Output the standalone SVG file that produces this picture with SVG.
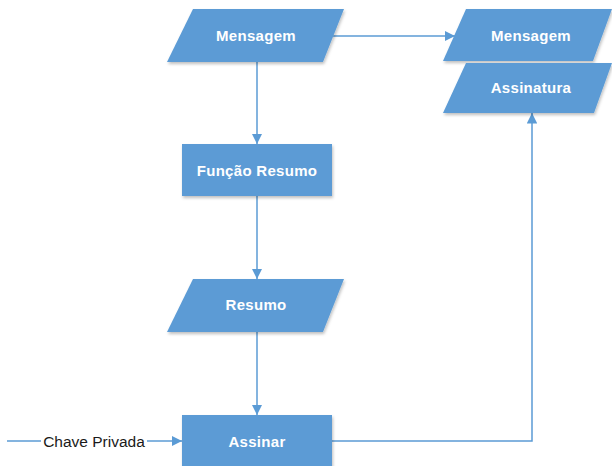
<svg xmlns="http://www.w3.org/2000/svg" width="612" height="466" viewBox="0 0 612 466">
  <style>
    .shape { fill: #5B9BD5; filter: url(#shadow); }
    .label { fill: #FFFFFF; font-family: "Liberation Sans", Arial, sans-serif; font-weight: bold; font-size: 15px; letter-spacing: 0.3px; text-anchor: middle; }
    .edge { fill: none; stroke: #5B9BD5; stroke-width: 1.5; }
    .edge-label { fill: #1A1A1A; font-family: "Liberation Sans", Arial, sans-serif; font-size: 15.5px; text-anchor: middle; }
  </style>
  <defs>
    <filter id="shadow" x="-10%" y="-20%" width="130%" height="160%">
      <feDropShadow dx="1" dy="2" stdDeviation="1.5" flood-color="#000000" flood-opacity="0.25"/>
    </filter>
    <marker id="arrow" viewBox="0 0 10 10" refX="10" refY="5" markerWidth="7" markerHeight="7" markerUnits="strokeWidth" orient="auto">
      <path d="M0,0 L10,5 L0,10 Z" fill="#5B9BD5"/>
    </marker>
  </defs>

  <rect width="612" height="466" fill="#FFFFFF"/>

  <!-- connectors -->
  <g id="connectors">
    <line class="edge" x1="257" y1="62" x2="257" y2="144" marker-end="url(#arrow)"/>
    <line class="edge" x1="333" y1="36" x2="455" y2="36" marker-end="url(#arrow)"/>
    <line class="edge" x1="257" y1="196" x2="257" y2="279" marker-end="url(#arrow)"/>
    <line class="edge" x1="257" y1="332" x2="257" y2="415" marker-end="url(#arrow)"/>
    <line class="edge" x1="7" y1="441" x2="182" y2="441" marker-end="url(#arrow)"/>
    <rect x="41" y="432" width="106" height="18" fill="#FFFFFF"/>
    <text class="edge-label" x="94" y="447">Chave Privada</text>
    <polyline class="edge" points="332,441 532,441 532,113" marker-end="url(#arrow)"/>
  </g>

  <!-- nodes -->
  <g id="mensagem">
    <polygon class="shape" points="193,9 344,9 323,62 167,62"/>
    <text class="label" x="256" y="41">Mensagem</text>
  </g>

  <g id="mensagem-assinada">
    <polygon class="shape" points="466,9 612,9 593,61 443,61"/>
    <text class="label" x="531" y="41">Mensagem</text>
  </g>

  <g id="assinatura">
    <polygon class="shape" points="466,63 612,63 594,113 443,113"/>
    <text class="label" x="531" y="93">Assinatura</text>
  </g>

  <g id="funcao-resumo">
    <rect class="shape" x="182" y="144" width="150" height="52"/>
    <text class="label" x="257" y="176">Função Resumo</text>
  </g>

  <g id="resumo">
    <polygon class="shape" points="193,279 344,279 323,332 167,332"/>
    <text class="label" x="256" y="310">Resumo</text>
  </g>

  <g id="assinar">
    <rect class="shape" x="182" y="415" width="150" height="60"/>
    <text class="label" x="257" y="447">Assinar</text>
  </g>
</svg>
